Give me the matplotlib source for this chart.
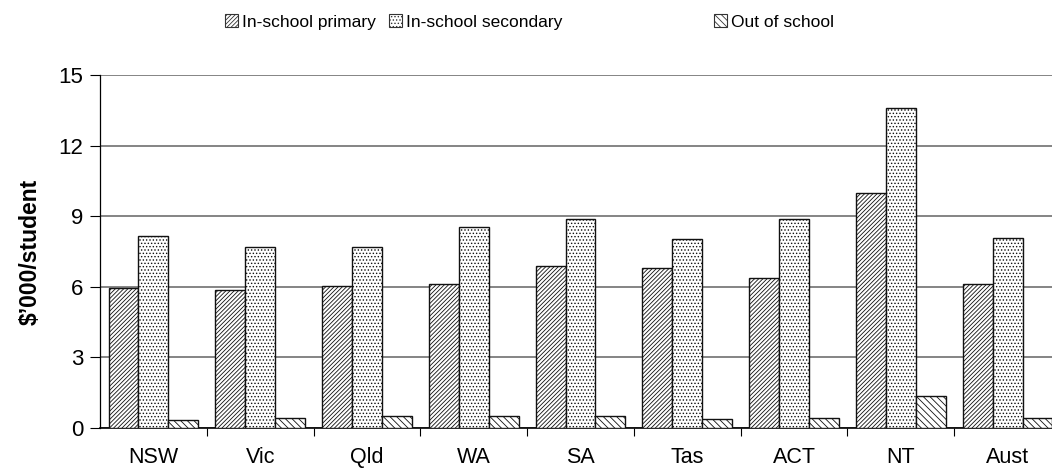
import numpy as np
import matplotlib
matplotlib.use("Agg")
import matplotlib.pyplot as plt
from matplotlib.patches import Patch

# --- data ---
states = ["NSW", "Vic", "Qld", "WA", "SA", "Tas", "ACT", "NT", "Aust"]
primary = [5.97, 5.86, 6.04, 6.13, 6.90, 6.81, 6.38, 9.97, 6.12]
secondary = [8.16, 7.68, 7.69, 8.52, 8.88, 8.03, 8.86, 13.58, 8.06]
out_of_school = [0.34, 0.42, 0.49, 0.49, 0.49, 0.40, 0.42, 1.36, 0.42]
series_names = ["In-school primary", "In-school secondary", "Out of school"]
y_ticks = [0, 3, 6, 9, 12, 15]

plt.rcParams['font.family'] = ['Liberation Sans', 'DejaVu Sans']
plt.rcParams['hatch.linewidth'] = 0.6
plt.rcParams['hatch.color'] = '#333333'

W, H = 1052, 474
fig = plt.figure(figsize=(W / 100, H / 100), dpi=100)
# axes run slightly past the right edge, as in the cropped original
ax = fig.add_axes([100 / W, 46 / H, 961 / W, 353 / H])

x = np.arange(len(states))
bw = 0.28
hatches = ['////////', '.....', '\\\\\\\\\\']
all_vals = [primary, secondary, out_of_school]
for i, (vals, h) in enumerate(zip(all_vals, hatches)):
    ax.bar(x + (i - 1) * bw, vals, bw, color='white', edgecolor='#111111',
           linewidth=1.0, hatch=h, zorder=3)

ax.set_xlim(-0.5, len(states) - 0.5)
ax.set_ylim(0, 15)
ax.set_yticks(y_ticks)
ax.tick_params(axis='y', labelsize=16, length=7, width=0.8, direction='out', pad=5)
ax.yaxis.grid(True, color='#707070', linewidth=1.2, zorder=0)

# category labels centred, tick marks between groups
ax.set_xticks(x)
ax.set_xticklabels(states)
ax.tick_params(axis='x', which='major', length=0, labelsize=15.5, pad=14)
ax.set_xticks(np.arange(len(states)) + 0.5, minor=True)
ax.tick_params(axis='x', which='minor', length=6, width=0.8, direction='out')

for s in ['top', 'right']:
    ax.spines[s].set_visible(False)
ax.spines['left'].set_linewidth(0.9)
ax.spines['bottom'].set_linewidth(1.2)

fig.text(30 / W, 1 - 252 / H, "$’000/student", rotation=90, fontsize=16.5,
         fontweight='bold', ha='center', va='center')

# legend entries placed separately to match the uneven spacing
legend_x = [225, 389, 714]
for name, h, lx in zip(series_names, hatches, legend_x):
    handle = Patch(facecolor='white', edgecolor='#333333', hatch=h, linewidth=0.8)
    fig.legend([handle], [name], loc='center left',
               bbox_to_anchor=(lx / W, 1 - 22 / H), frameon=False,
               fontsize=12.5, handlelength=0.75, handleheight=0.75,
               handletextpad=0.25, borderpad=0, borderaxespad=0)

fig.savefig("out.png", dpi=100)
